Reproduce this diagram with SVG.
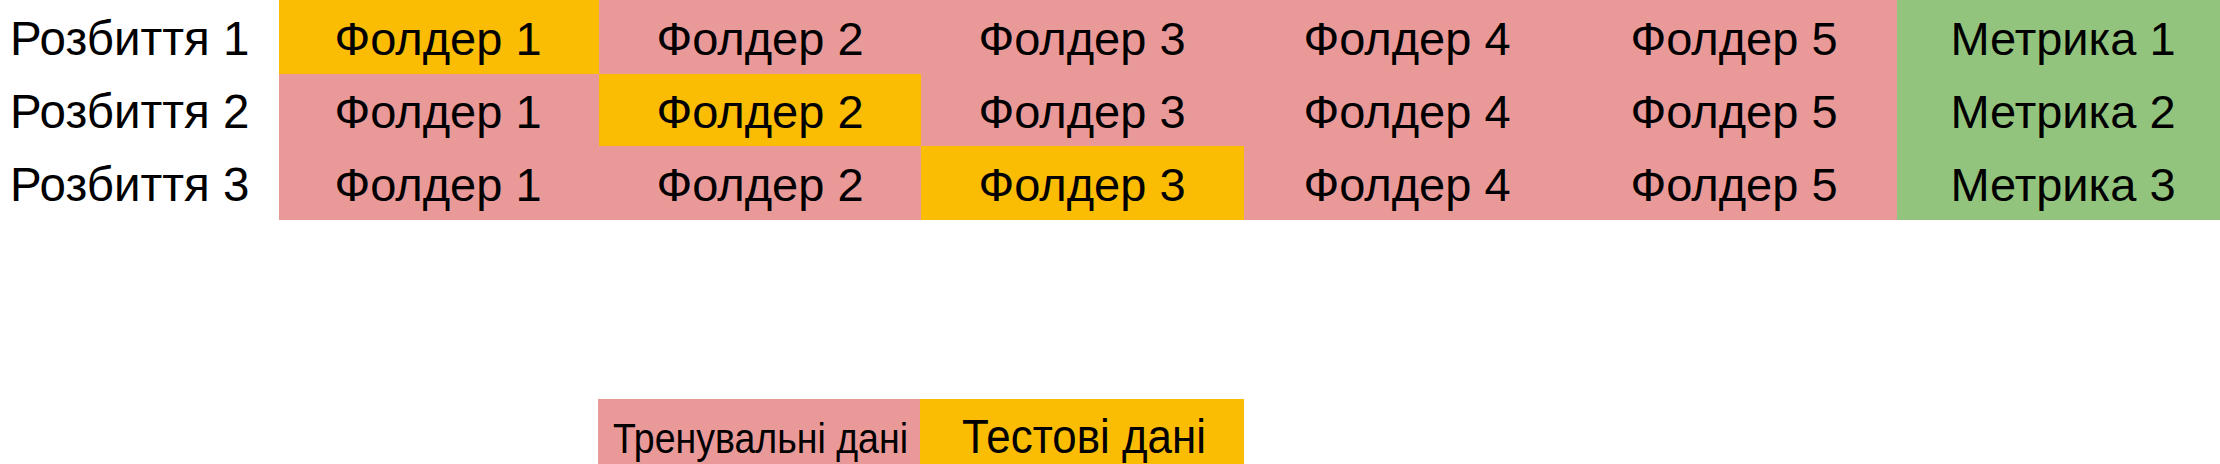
<svg xmlns="http://www.w3.org/2000/svg" width="2220" height="464" viewBox="0 0 2220 464">
<style>
text{font-family:"Liberation Sans",Arial,sans-serif;fill:#000;}
.t{font-size:47px;text-anchor:middle;}
.lbl{font-size:47.5px;text-anchor:start;}
.tr{fill:#EA9999;}
.te{fill:#FBBC04;}
.m{fill:#93C47D;}
</style>
<rect width="2220" height="464" fill="#fff"/>
<g id="labels">
<text class="lbl" x="10" y="55">Розбиття 1</text>
<text class="lbl" x="10" y="128">Розбиття 2</text>
<text class="lbl" x="10" y="201">Розбиття 3</text>
</g>
<g id="split1">
<g id="s1f1"><rect class="te" x="279" y="0" width="320" height="74"/><text class="t" x="438" y="55">Фолдер 1</text></g>
<g id="s1f2"><rect class="tr" x="599" y="0" width="322" height="74"/><text class="t" x="760" y="55">Фолдер 2</text></g>
<g id="s1f3"><rect class="tr" x="921" y="0" width="323" height="74"/><text class="t" x="1082" y="55">Фолдер 3</text></g>
<g id="s1f4"><rect class="tr" x="1244" y="0" width="326" height="74"/><text class="t" x="1407" y="55">Фолдер 4</text></g>
<g id="s1f5"><rect class="tr" x="1570" y="0" width="327" height="74"/><text class="t" x="1734" y="55">Фолдер 5</text></g>
<g id="s1m"><rect class="m" x="1897" y="0" width="323" height="74"/><text class="t" x="2063" y="55">Метрика 1</text></g>
</g>
<g id="split2">
<g id="s2f1"><rect class="tr" x="279" y="74" width="320" height="72"/><text class="t" x="438" y="128">Фолдер 1</text></g>
<g id="s2f2"><rect class="te" x="599" y="74" width="322" height="72"/><text class="t" x="760" y="128">Фолдер 2</text></g>
<g id="s2f3"><rect class="tr" x="921" y="74" width="323" height="72"/><text class="t" x="1082" y="128">Фолдер 3</text></g>
<g id="s2f4"><rect class="tr" x="1244" y="74" width="326" height="72"/><text class="t" x="1407" y="128">Фолдер 4</text></g>
<g id="s2f5"><rect class="tr" x="1570" y="74" width="327" height="72"/><text class="t" x="1734" y="128">Фолдер 5</text></g>
<g id="s2m"><rect class="m" x="1897" y="74" width="323" height="72"/><text class="t" x="2063" y="128">Метрика 2</text></g>
</g>
<g id="split3">
<g id="s3f1"><rect class="tr" x="279" y="146" width="320" height="74"/><text class="t" x="438" y="201">Фолдер 1</text></g>
<g id="s3f2"><rect class="tr" x="599" y="146" width="322" height="74"/><text class="t" x="760" y="201">Фолдер 2</text></g>
<g id="s3f3"><rect class="te" x="921" y="146" width="323" height="74"/><text class="t" x="1082" y="201">Фолдер 3</text></g>
<g id="s3f4"><rect class="tr" x="1244" y="146" width="326" height="74"/><text class="t" x="1407" y="201">Фолдер 4</text></g>
<g id="s3f5"><rect class="tr" x="1570" y="146" width="327" height="74"/><text class="t" x="1734" y="201">Фолдер 5</text></g>
<g id="s3m"><rect class="m" x="1897" y="146" width="323" height="74"/><text class="t" x="2063" y="201">Метрика 3</text></g>
</g>
<g id="legend">
<g id="legend-train"><rect class="tr" x="598" y="399" width="322" height="65"/><text x="613" y="453" font-size="43" textLength="295" lengthAdjust="spacingAndGlyphs">Тренувальні дані</text></g>
<g id="legend-test"><rect class="te" x="920" y="399" width="324" height="65"/><text x="962" y="453" font-size="49" textLength="244" lengthAdjust="spacingAndGlyphs">Тестові дані</text></g>
</g>
<g id="connectors"></g>
</svg>
